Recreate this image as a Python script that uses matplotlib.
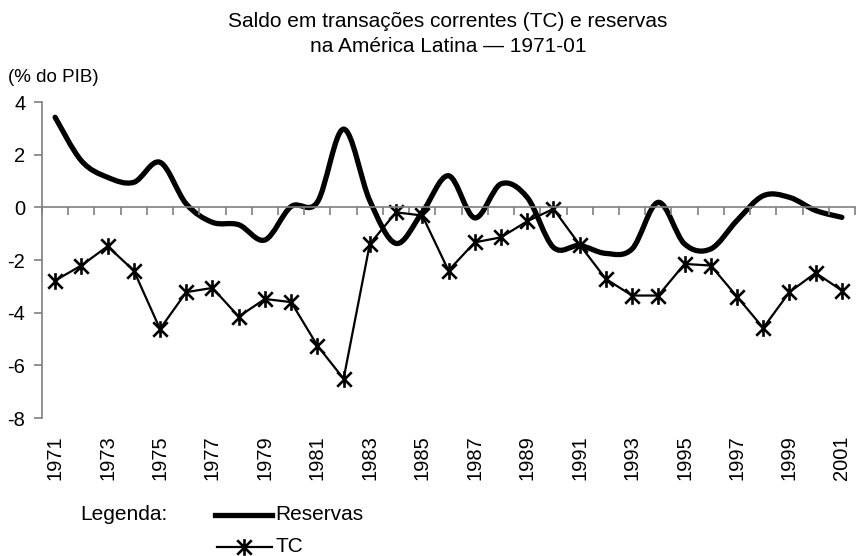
import matplotlib.pyplot as plt
from matplotlib.path import Path
from matplotlib.patches import PathPatch
from matplotlib.lines import Line2D
from matplotlib.transforms import blended_transform_factory

plt.rcParams['font.family'] = ['Liberation Sans', 'DejaVu Sans']

# data (% do PIB)
years = list(range(1971, 2002))
reservas = [3.42, 1.77, 1.14, 0.95, 1.71, 0.13, -0.57, -0.66, -1.24, 0.03,
            0.2, 2.97, 0.25, -1.37, -0.19, 1.2, -0.4, 0.89, 0.38, -1.52,
            -1.45, -1.75, -1.58, 0.19, -1.39, -1.58, -0.5, 0.44, 0.38, -0.12,
            -0.38]
tc = [-2.78, -2.21, -1.48, -2.4, -4.62, -3.22, -3.06, -4.15, -3.48, -3.6,
      -5.25, -6.51, -1.39, -0.19, -0.31, -2.4, -1.33, -1.14, -0.53, -0.06,
      -1.42, -2.72, -3.35, -3.35, -2.15, -2.21, -3.39, -4.58, -3.22, -2.49,
      -3.16]
yticks = [-8, -6, -4, -2, 0, 2, 4]
label_years = years[::2]

W, H = 857, 556
fig = plt.figure(figsize=(W / 100, H / 100), dpi=100)
ax = fig.add_axes([42 / W, 1 - 418 / H, (855 - 42) / W, (418 - 102) / H])

xs = list(range(len(years)))
axis_col = '#7f7f7f'


def smooth_path(x, y):
    # excel-like smoothed line: cubic bezier through each point (catmull-rom)
    pts = list(zip(x, y))
    verts = [pts[0]]
    codes = [Path.MOVETO]
    n = len(pts)
    for i in range(n - 1):
        p0 = pts[i - 1] if i > 0 else pts[i]
        p1 = pts[i]
        p2 = pts[i + 1]
        p3 = pts[i + 2] if i + 2 < n else pts[i + 1]
        c1 = (p1[0] + (p2[0] - p0[0]) / 6, p1[1] + (p2[1] - p0[1]) / 6)
        c2 = (p2[0] - (p3[0] - p1[0]) / 6, p2[1] - (p3[1] - p1[1]) / 6)
        verts += [c1, c2, p2]
        codes += [Path.CURVE4] * 3
    return Path(verts, codes)


ax.add_patch(PathPatch(smooth_path(xs, reservas), fill=False, lw=3.8,
                       edgecolor='black', capstyle='round', joinstyle='round'))

star = Path([(-1, -1), (1, 1), (-1, 1), (1, -1), (0, -1.15), (0, 1.15)],
            [Path.MOVETO, Path.LINETO] * 3)
ax.plot(xs, tc, color='black', lw=1.6, marker=star, markersize=12,
        markeredgewidth=1.9, markerfacecolor='none', markeredgecolor='black')

ax.set_xlim(-0.5, len(years) - 0.5)
ax.set_ylim(-8, 4)

for s in ['top', 'right']:
    ax.spines[s].set_visible(False)
ax.spines['left'].set_color(axis_col)
ax.spines['left'].set_linewidth(1.2)
ax.spines['bottom'].set_position(('data', 0))
ax.spines['bottom'].set_color(axis_col)
ax.spines['bottom'].set_linewidth(1.2)

ax.set_yticks(yticks)
ax.set_yticklabels([str(v) for v in yticks])
ax.tick_params(axis='y', direction='out', length=6, width=1.2,
               color=axis_col, labelsize=14.5, pad=6)
ax.set_xticks([i - 0.5 for i in range(len(years) + 1)])
ax.set_xticklabels([])
ax.tick_params(axis='x', direction='out', length=6, width=1.2, color=axis_col)

trans = blended_transform_factory(ax.transData, ax.transAxes)
for yr in label_years:
    ax.text(years.index(yr), -0.055, str(yr), transform=trans, rotation=90,
            ha='center', va='top', fontsize=14.5)

fig.text(448 / W, 1 - 34 / H,
         'Saldo em transações correntes (TC) e reservas\nna América Latina — 1971-01',
         ha='center', va='center', fontsize=15, linespacing=1.35)
fig.text(8 / W, 1 - 77 / H, '(% do PIB)', ha='left', va='center', fontsize=13.5)

# legend drawn by hand
fig.text(80 / W, 1 - 515 / H, 'Legenda:', ha='left', va='center', fontsize=15)
fig.add_artist(Line2D([215 / W, 272 / W], [1 - 515 / H] * 2, color='black',
                      lw=3.8, transform=fig.transFigure))
fig.text(275 / W, 1 - 515 / H, 'Reservas', ha='left', va='center', fontsize=15)
fig.add_artist(Line2D([217 / W, 244 / W, 272 / W], [1 - 547 / H] * 3,
                      color='black', lw=1.6, marker=star, markersize=12,
                      markeredgewidth=1.9, markevery=[1],
                      transform=fig.transFigure))
fig.text(275 / W, 1 - 547 / H, 'TC', ha='left', va='center', fontsize=15)

fig.savefig('out.png', dpi=100)
